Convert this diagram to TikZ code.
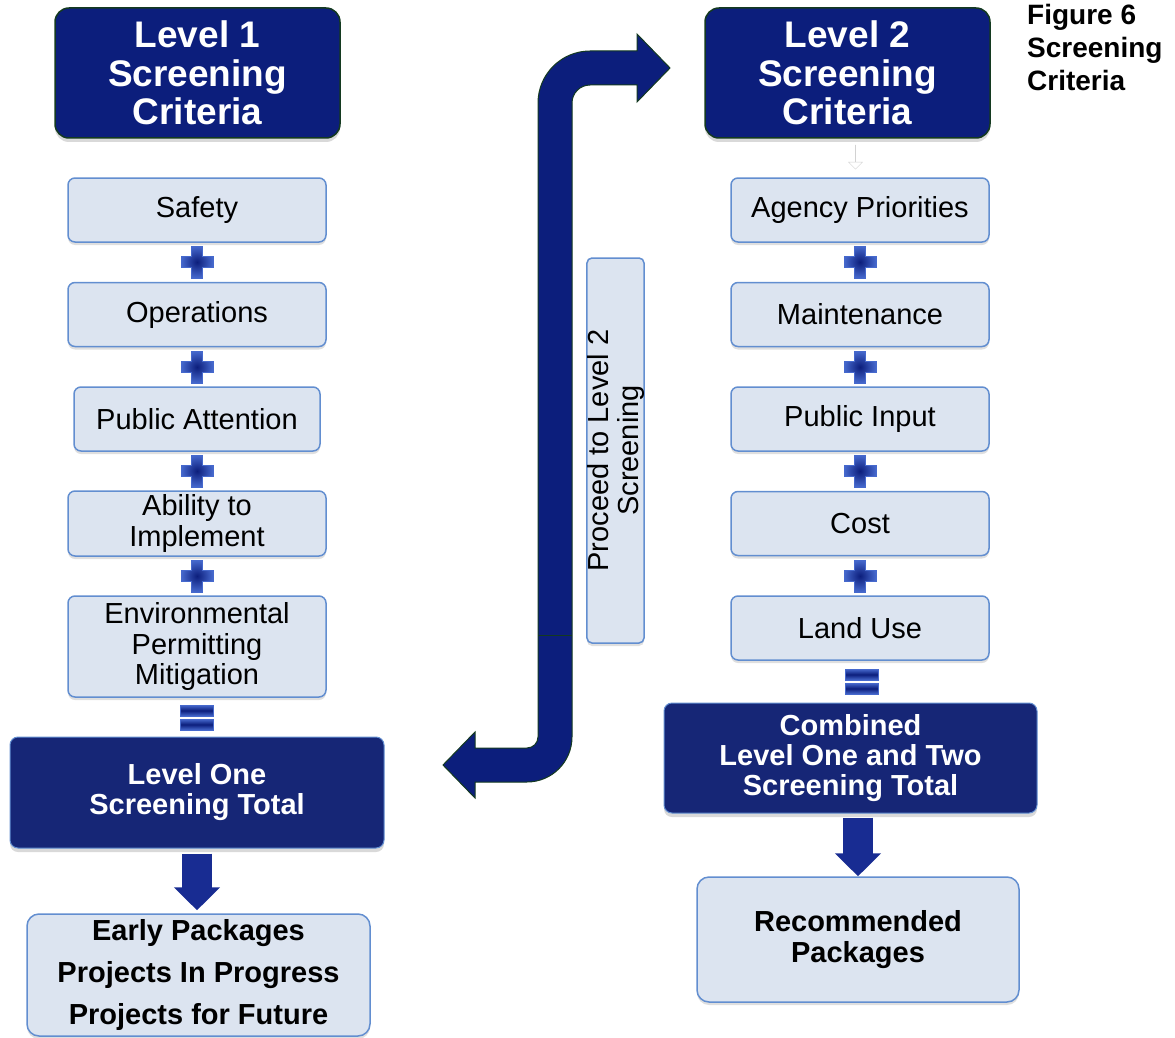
\documentclass[tikz,border=0pt]{standalone}
\usepackage{fontspec}
\setmainfont{Liberation Sans}
\usepackage{tikz}
\usetikzlibrary{arrows.meta,shapes.arrows,shadows}

\definecolor{navy}{RGB}{12,30,124}
\definecolor{hdline}{RGB}{20,58,32}
\definecolor{totfill}{RGB}{22,38,118}
\definecolor{critfill}{RGB}{220,228,240}
\definecolor{critline}{RGB}{98,142,208}
\definecolor{plusblue}{RGB}{70,105,205}
\definecolor{arrblue}{RGB}{24,44,146}

\begin{document}
\begin{tikzpicture}[x=1pt,y=1pt,
  head/.style={draw=hdline, line width=1.5pt, rounded corners=14pt, fill=navy, text=white,
    font=\bfseries\fontsize{37}{38.5}\selectfont, align=center, inner sep=0pt,
    minimum width=285pt, minimum height=130pt,
    drop shadow={opacity=0.3, shadow xshift=0pt, shadow yshift=-4pt}},
  crit/.style={draw=critline, line width=1.5pt, rounded corners=7pt, fill=critfill,
    font=\fontsize{29}{30.5}\selectfont, align=center, inner sep=0pt,
    minimum width=258pt, minimum height=64pt,
    drop shadow={opacity=0.25, shadow xshift=0pt, shadow yshift=-3pt}},
  total/.style={draw=critline, line width=1pt, rounded corners=8pt, fill=totfill, text=white,
    font=\bfseries\fontsize{29}{30}\selectfont, align=center, inner sep=0pt,
    drop shadow={opacity=0.3, shadow xshift=0pt, shadow yshift=-4pt}},
  result/.style={crit, rounded corners=12pt, font=\bfseries\fontsize{29}{30.5}\selectfont},
  blockarrow/.style={line width=30pt, draw=arrblue, -{Triangle[width=45pt,length=23pt]}},
  plussign/.pic={
    \shadedraw[inner color=navy, outer color=plusblue, draw=plusblue, line width=0.6pt]
      (-5.5,-16) -- (5.5,-16) -- (5.5,-5.5) -- (16,-5.5) -- (16,5.5) -- (5.5,5.5)
      -- (5.5,16) -- (-5.5,16) -- (-5.5,5.5) -- (-16,5.5) -- (-16,-5.5) -- (-5.5,-5.5) -- cycle;},
  equalsign/.pic={
    \shadedraw[top color=plusblue, bottom color=plusblue, middle color=navy, draw=plusblue, line width=0.6pt]
      (-16.5,1.5) rectangle (16.5,12.5);
    \shadedraw[top color=plusblue, bottom color=plusblue, middle color=navy, draw=plusblue, line width=0.6pt]
      (-16.5,-1.5) rectangle (16.5,-12.5);}
]
\useasboundingbox (0,0) rectangle (1175,-1038);

% level 1 column
\node[head] (L1) at (197.5,-73) {Level 1\\Screening\\Criteria};
\node[crit] (S1) at (197,-210)   {Safety};
\node[crit] (S2) at (197,-314.5) {Operations};
\node[crit, minimum width=246pt] (S3) at (197,-419) {Public Attention};
\node[crit, minimum height=65pt] (S4) at (197,-523.5) {Ability to\\Implement};
\node[crit, minimum height=101pt] (S5) at (197,-646.5) {Environmental\\Permitting\\Mitigation};
\node[total, minimum width=374pt, minimum height=111pt] (T1) at (197,-792.5) {Level One\\Screening Total};
\node[result, minimum width=343pt, minimum height=122pt, font=\bfseries\fontsize{29}{42}\selectfont]
  (O1) at (198.5,-975) {Early Packages\\Projects In Progress\\Projects for Future};

\pic at (197,-262) {plussign};
\pic at (197,-367) {plussign};
\pic at (197,-471) {plussign};
\pic at (197,-576) {plussign};
\pic at (197,-717.5) {equalsign};
\draw[blockarrow, shorten <=5pt, shorten >=3pt] (T1.south) -- (T1.south |- O1.north);

% level 2 column
\node[head] (L2) at (847.5,-73) {Level 2\\Screening\\Criteria};
\node[single arrow, rotate=-90, draw=gray!35, fill=white, minimum height=24pt, minimum width=14pt,
  single arrow head extend=5.5pt, inner sep=0pt] (fa) at (855.5,-157) {};
\node[crit] (R1) at (860,-210)   {Agency Priorities};
\node[crit] (R2) at (860,-314.5) {Maintenance};
\node[crit] (R3) at (860,-419)   {Public Input};
\node[crit] (R4) at (860,-523.5) {Cost};
\node[crit] (R5) at (860,-628)   {Land Use};
\node[total, minimum width=373pt, minimum height=110pt] (T2) at (850.5,-758)
  {Combined\\Level One and Two\\Screening Total};
\node[result, minimum width=322pt, minimum height=125pt] (O2) at (858,-939.5) {Recommended\\Packages};

\pic at (860,-262) {plussign};
\pic at (860,-367) {plussign};
\pic at (860,-471) {plussign};
\pic at (860,-576) {plussign};
\pic at (862,-681.5) {equalsign};
\draw[blockarrow, shorten <=4pt] (O2.north |- T2.south) -- (O2.north);

% bent arrow between the columns
\filldraw[fill=navy, draw=hdline, line width=1pt]
  (443,-765) -- (475,-732) -- (475,-748) -- (527,-748) arc[start angle=-90, end angle=0, radius=11]
  -- (538,-103) arc[start angle=180, end angle=90, radius=52]
  -- (637,-51) -- (637,-34) -- (670,-68) -- (637,-102) -- (637,-85) -- (590,-85)
  arc[start angle=90, end angle=180, radius=18]
  -- (572,-737) arc[start angle=0, end angle=-90, radius=45]
  -- (475,-782) -- (475,-798) -- cycle;
\draw[hdline, line width=0.8pt] (538,-635) -- (572,-635);

\node[crit, rotate=90, minimum width=385pt, minimum height=55pt, rounded corners=5pt,
  font=\fontsize{29}{30}\selectfont] (P) at (615.5,-450.5) {Proceed to Level 2\\Screening};

\node[anchor=north west, align=left, inner sep=0pt, font=\bfseries\fontsize{28}{33}\selectfont]
  (fig) at (1027,-4) {Figure 6\\Screening\\Criteria};
\end{tikzpicture}
\end{document}
